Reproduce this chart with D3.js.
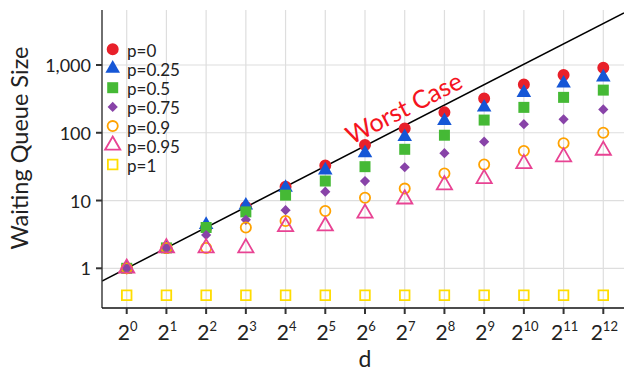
<!DOCTYPE html>
<html>
<head>
<meta charset="utf-8">
<script src="https://cdn.jsdelivr.net/npm/d3@7"></script>
<style>
  html, body { margin: 0; padding: 0; background: #fff; }
  svg text { font-family: "Lato", "Open Sans", sans-serif; font-weight: 400; fill: #222; }
</style>
</head>
<body>
<svg id="chart" width="624" height="371"></svg>
<script>
// Number of workers d (powers of two)
const exponents = [0, 1, 2, 3, 4, 5, 6, 7, 8, 9, 10, 11, 12];
const dValues = [1, 2, 4, 8, 16, 32, 64, 128, 256, 512, 1024, 2048, 4096];

// Waiting queue size per forwarding probability p
const seriesLabels = ["p=0", "p=0.25", "p=0.5", "p=0.75", "p=0.9", "p=0.95", "p=1"];
const p0   = [1, 2, 4, 8, 16, 33, 66, 116, 200, 321, 517, 710, 910];
const p025 = [1, 2, 4.4, 8.5, 15.5, 28, 50, 87, 150, 237, 390, 536, 660];
const p05  = [1, 2, 4, 6.8, 12, 19.4, 31.6, 57, 92, 154, 237, 333, 426];
const p075 = [1, 2, 3.1, 5.2, 7.2, 13.5, 19.4, 31, 50, 74, 134, 158, 221];
const p09  = [1, 2, 2, 4, 5, 7, 11, 15, 25, 34, 54, 70, 100];
const p095 = [1, 2, 2, 2, 4.1, 4.2, 6.5, 10.5, 17, 21, 35, 44, 55];
const p1   = [0.4, 0.4, 0.4, 0.4, 0.4, 0.4, 0.4, 0.4, 0.4, 0.4, 0.4, 0.4, 0.4];
const seriesValues = [p0, p025, p05, p075, p09, p095, p1];

// y-axis ticks
const yTicks = [1, 10, 100, 1000];

// Worst case: queue grows as d
const worstLabel = "Worst Case";

// Marker styling per series
const styles = [
  { shape: "circle",   fill: "#e8202a", open: false, size: 113 },
  { shape: "triangle", fill: "#1556d6", open: false, size: 92 },
  { shape: "square",   fill: "#45b935", open: false, size: 121 },
  { shape: "diamond",  fill: "#8843a8", open: false, size: 52 },
  { shape: "circle",   fill: "#ffa200", open: true,  size: 82 },
  { shape: "triangle", fill: "#e84393", open: true,  size: 100 },
  { shape: "square",   fill: "#ffdd00", open: true,  size: 92 }
];

const svg = d3.select("#chart");
const panel = { left: 102, right: 624, top: 10, bottom: 308 };

const x = d3.scaleLog().base(2).domain([1, 4096]).range([126.7, 603.3]);
const y = d3.scaleLog().domain([1, 1000]).range([268.3, 65]);

svg.append("defs").append("clipPath").attr("id", "panelClip")
  .append("rect")
  .attr("x", panel.left).attr("y", panel.top)
  .attr("width", panel.right - panel.left).attr("height", panel.bottom - panel.top);

// gridlines
const grid = svg.append("g").attr("clip-path", "url(#panelClip)");
grid.selectAll("line.v").data(dValues).join("line")
  .attr("x1", d => x(d)).attr("x2", d => x(d))
  .attr("y1", panel.top).attr("y2", panel.bottom)
  .attr("stroke", "#dedede").attr("stroke-width", 1.2);
grid.selectAll("line.h").data(yTicks).join("line")
  .attr("x1", panel.left).attr("x2", panel.right)
  .attr("y1", d => y(d)).attr("y2", d => y(d))
  .attr("stroke", "#dedede").attr("stroke-width", 1.2);

// worst-case line y = d across the whole panel
const xLo = x.invert(panel.left), xHi = x.invert(panel.right);
grid.append("line")
  .attr("x1", x(xLo)).attr("y1", y(xLo))
  .attr("x2", x(xHi)).attr("y2", y(xHi))
  .attr("stroke", "#000").attr("stroke-width", 1.5);

// marker shapes
function symbolPath(st) {
  if (st.shape === "diamond") {
    const a = Math.sqrt(st.size * 2) / 2;
    return `M0,${-a}L${a},0L0,${a}L${-a},0Z`;
  }
  const t = { circle: d3.symbolCircle, triangle: d3.symbolTriangle, square: d3.symbolSquare }[st.shape];
  return d3.symbol().type(t).size(st.size)();
}

const points = svg.append("g");
seriesValues.forEach((vals, i) => {
  const st = styles[i];
  points.append("g").selectAll("path").data(vals.map((v, j) => ({ d: dValues[j], v })))
    .join("path")
    .attr("d", symbolPath(st))
    .attr("transform", p => `translate(${x(p.d)},${y(p.v)})`)
    .attr("fill", st.open ? "none" : st.fill)
    .attr("stroke", st.open ? st.fill : "none")
    .attr("stroke-width", st.open ? 1.8 : 0);
});

// axes
const axisColor = "#333";
svg.append("line").attr("x1", panel.left).attr("x2", panel.left)
  .attr("y1", panel.top).attr("y2", panel.bottom)
  .attr("stroke", axisColor).attr("stroke-width", 1.4);
svg.append("line").attr("x1", panel.left).attr("x2", panel.right)
  .attr("y1", panel.bottom).attr("y2", panel.bottom)
  .attr("stroke", "#111").attr("stroke-width", 1.4);

// y ticks
const yAxisG = svg.append("g");
yAxisG.selectAll("line").data(yTicks).join("line")
  .attr("x1", panel.left - 6).attr("x2", panel.left)
  .attr("y1", d => y(d)).attr("y2", d => y(d))
  .attr("stroke", axisColor).attr("stroke-width", 2);
yAxisG.selectAll("text").data(yTicks).join("text")
  .attr("x", 91).attr("y", d => y(d))
  .attr("text-anchor", "end").attr("dominant-baseline", "central")
  .attr("font-size", 18)
  .text(d3.format(","));

// x ticks with power-of-two labels
const xAxisG = svg.append("g");
xAxisG.selectAll("line").data(dValues).join("line")
  .attr("x1", d => x(d)).attr("x2", d => x(d))
  .attr("y1", panel.bottom).attr("y2", panel.bottom + 6)
  .attr("stroke", axisColor).attr("stroke-width", 2);
const xl = xAxisG.selectAll("text").data(exponents).join("text")
  .attr("x", (e, i) => x(dValues[i]) + 1).attr("y", 340)
  .attr("text-anchor", "middle").attr("font-size", 21);
xl.append("tspan").text("2");
xl.append("tspan").attr("dy", -9).attr("font-size", 13).text(e => e);

// axis titles
svg.append("text").attr("x", 365).attr("y", 367)
  .attr("text-anchor", "middle").attr("font-size", 23).text("d");
svg.append("text")
  .attr("transform", "translate(28,148) rotate(-90)")
  .attr("text-anchor", "middle").attr("font-size", 23.5).text("Waiting Queue Size");

// worst-case annotation, rotated along the line
const angle = Math.atan2(y(1) - y(2), x(2) - x(1)) * 180 / Math.PI;
svg.append("text")
  .attr("transform", `translate(${x(125)},${y(240)}) rotate(${-angle})`)
  .attr("text-anchor", "middle").attr("dominant-baseline", "central")
  .attr("font-size", 25).style("fill", "#f5141e").text(worstLabel);

// legend
const legend = svg.append("g");
seriesLabels.forEach((lab, i) => {
  const st = styles[i];
  const cy = 49.3 + i * 19.2;
  legend.append("path").attr("d", symbolPath(st))
    .attr("transform", `translate(112.7,${cy})`)
    .attr("fill", st.open ? "none" : st.fill)
    .attr("stroke", st.open ? st.fill : "none")
    .attr("stroke-width", st.open ? 1.8 : 0);
  legend.append("text").attr("x", 127).attr("y", cy + 1)
    .attr("dominant-baseline", "central").attr("font-size", 17).text(lab);
});
</script>
</body>
</html>
